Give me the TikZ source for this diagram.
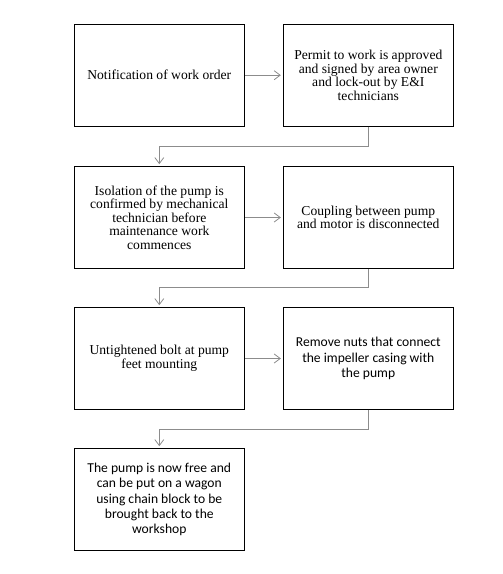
\documentclass[tikz,border=0pt]{standalone}
\usepackage{fontspec}
\setmainfont{Liberation Serif}
\newfontfamily\calib{Carlito}
\usetikzlibrary{arrows.meta}
\tikzset{
  box/.style={draw=black, line width=0.9pt, rectangle, minimum height=101.7pt, align=center, inner sep=0pt},
  lbox/.style={box, minimum width=170.7pt},
  rbox/.style={box, minimum width=170pt},
  serift/.style={font=\fontsize{13.6}{13.6}\selectfont},
  sanst/.style={font=\calib\fontsize{13.6}{15.4}\selectfont},
  arr/.style={draw=gray!90, line width=0.8pt, -{Straight Barb[length=6pt,width=9pt,line width=0.8pt]}, shorten >=2pt}
}
\begin{document}
\begin{tikzpicture}[x=1pt,y=-1pt]
\useasboundingbox (0,0) rectangle (503,574);
\node[lbox,serift] (l1) at (159.3,75.2) {Notification of work order};
\node[rbox,serift] (r1) at (368.3,75.2) {Permit to work is approved\\and signed by area owner\\and lock-out by E\&I\\technicians};
\node[lbox,serift] (l2) at (159.3,217.5) {Isolation of the pump is\\confirmed by mechanical\\technician before\\maintenance work\\commences};
\node[rbox,serift] (r2) at (368.3,217.5) {Coupling between pump\\and motor is disconnected};
\node[lbox,serift] (l3) at (159.3,358.5) {Untightened bolt at pump\\feet mounting};
\node[rbox,sanst] (r3) at (368.3,358.5) {Remove nuts that connect\\the impeller casing with\\the pump};
\node[lbox,sanst] (l4) at (159.3,499.5) {The pump is now free and\\can be put on a wagon\\using chain block to be\\brought back to the\\workshop};
\coordinate (e1) at (0,146);
\coordinate (e2) at (0,287.5);
\coordinate (e3) at (0,429);
\draw[arr] (l1) -- (r1);
\draw[arr] (l2) -- (r2);
\draw[arr] (l3) -- (r3);
\draw[arr] (r1.south) -- (r1.south |- e1) -| (l2.north);
\draw[arr] (r2.south) -- (r2.south |- e2) -| (l3.north);
\draw[arr] (r3.south) -- (r3.south |- e3) -| (l4.north);
\end{tikzpicture}
\end{document}
